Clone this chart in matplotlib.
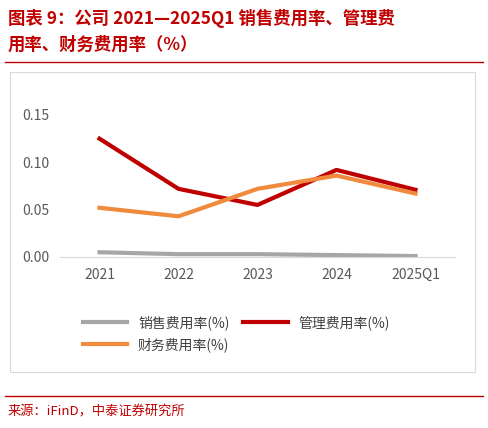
import matplotlib.pyplot as plt
import matplotlib.patches as mpatches
from matplotlib.lines import Line2D

plt.rcParams['font.family'] = ['Noto Sans CJK SC', 'DejaVu Sans']

years = ['2021', '2022', '2023', '2024', '2025Q1']
sales_rate = [0.005, 0.003, 0.003, 0.002, 0.001]
mgmt_rate = [0.125, 0.072, 0.055, 0.092, 0.071]
fin_rate = [0.052, 0.043, 0.072, 0.086, 0.067]

W, H = 488, 428
fig = plt.figure(figsize=(W / 100, H / 100), dpi=100)

red = '#c00000'
fig.text(8 / W, 1 - 18 / H, '图表 9：公司 2021—2025Q1 销售费用率、管理费', color=red,
         fontsize=12.5, fontweight='bold', style='italic', va='center')
fig.text(8 / W, 1 - 45 / H, '用率、财务费用率（%）', color=red,
         fontsize=12.5, fontweight='bold', style='italic', va='center')
fig.add_artist(Line2D([5 / W, 483 / W], [1 - 62 / H] * 2, color=red, lw=1))

# chart frame
fig.add_artist(mpatches.Rectangle((10 / W, 1 - 372 / H), 465 / W, 300 / H,
                                  fill=False, edgecolor='#d9d9d9', lw=0.8))

ax = fig.add_axes([60 / W, 1 - 257 / H, 395 / W, 142 / H])
l1, = ax.plot(years, sales_rate, color='#a6a6a6', lw=3, label='销售费用率(%)')
l2, = ax.plot(years, mgmt_rate, color='#c00000', lw=3, label='管理费用率(%)')
l3, = ax.plot(years, fin_rate, color='#f08a3c', lw=3, label='财务费用率(%)')
ax.set_ylim(0, 0.15)
ax.set_yticks([0, 0.05, 0.10, 0.15])
ax.set_yticklabels(['0.00', '0.05', '0.10', '0.15'])
ax.set_xlim(-0.5, 4.5)
for s in ['top', 'right', 'left']:
    ax.spines[s].set_visible(False)
ax.spines['bottom'].set_color('#d9d9d9')
ax.tick_params(length=0, labelsize=10, colors='#595959', pad=8)

fig.legend([l1, l3, l2], [l1.get_label(), l3.get_label(), l2.get_label()],
           loc='upper left', bbox_to_anchor=(70 / W, 1 - 303 / H),
           ncol=2, frameon=False, fontsize=10, handlelength=3.2,
           columnspacing=1.0, labelcolor='#404040')

fig.add_artist(Line2D([5 / W, 483 / W], [1 - 396 / H] * 2, color=red, lw=1))
fig.text(8 / W, 1 - 412 / H, '来源：iFinD，中泰证券研究所', color=red, fontsize=9.5, va='center')

fig.savefig('out.png', dpi=100)
